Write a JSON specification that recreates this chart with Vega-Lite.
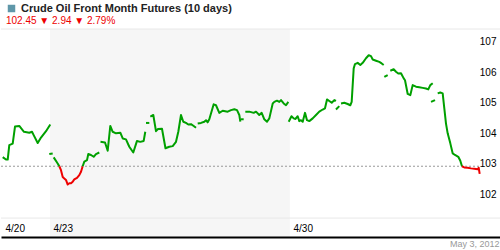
{
  "$schema": "https://vega.github.io/schema/vega-lite/v6.json",
  "width": 500,
  "height": 208,
  "padding": {"left": 0, "right": 0, "top": 3, "bottom": 0},
  "background": "white",
  "config": {"view": {"stroke": null}, "font": "Liberation Sans"},
  "title": {
    "text": "102.45 \u25bc 2.94  \u25bc 2.79%",
    "anchor": "start",
    "frame": "group",
    "dx": 5,
    "font": "Liberation Sans",
    "fontSize": 10,
    "fontWeight": "normal",
    "color": "#ee0000",
    "offset": -23
  },
  "data": {"values": [
    {"t":0.015,"v":103.00,"s":1,"c":"up"},{"t":0.083,"v":102.92,"s":1,"c":"up"},{"t":0.119,"v":102.92,"s":1,"c":"up"},{"t":0.152,"v":103.39,"s":1,"c":"up"},{"t":0.223,"v":103.44,"s":1,"c":"up"},{"t":0.271,"v":104.00,"s":1,"c":"up"},{"t":0.360,"v":104.02,"s":1,"c":"up"},{"t":0.458,"v":103.83,"s":1,"c":"up"},{"t":0.569,"v":103.80,"s":1,"c":"up"},{"t":0.625,"v":103.83,"s":1,"c":"up"},{"t":0.660,"v":103.72,"s":1,"c":"up"},{"t":0.744,"v":103.46,"s":1,"c":"up"},{"t":0.8125,"v":103.64,"s":1,"c":"up"},{"t":0.917,"v":103.85,"s":1,"c":"up"},{"t":1.006,"v":104.07,"s":1,"c":"up"},
    {"t":0.985,"v":103.10,"s":2,"c":"up"},{"t":1.056,"v":103.12,"s":2,"c":"up"},
    {"t":1.077,"v":102.99,"s":3,"c":"up"},{"t":1.160,"v":102.79,"s":3,"c":"up"},{"t":1.194,"v":102.70,"s":3,"c":"up"},
    {"t":1.194,"v":102.70,"s":4,"c":"down"},{"t":1.229,"v":102.57,"s":4,"c":"down"},{"t":1.265,"v":102.35,"s":4,"c":"down"},{"t":1.298,"v":102.30,"s":4,"c":"down"},{"t":1.333,"v":102.25,"s":4,"c":"down"},{"t":1.369,"v":102.10,"s":4,"c":"down"},{"t":1.402,"v":102.14,"s":4,"c":"down"},{"t":1.4375,"v":102.14,"s":4,"c":"down"},{"t":1.473,"v":102.19,"s":4,"c":"down"},{"t":1.506,"v":102.27,"s":4,"c":"down"},{"t":1.5625,"v":102.32,"s":4,"c":"down"},{"t":1.610,"v":102.41,"s":4,"c":"down"},{"t":1.646,"v":102.52,"s":4,"c":"down"},{"t":1.681,"v":102.70,"s":4,"c":"down"},
    {"t":1.681,"v":102.70,"s":5,"c":"up"},{"t":1.715,"v":102.85,"s":5,"c":"up"},{"t":1.771,"v":102.90,"s":5,"c":"up"},{"t":1.798,"v":103.10,"s":5,"c":"up"},{"t":1.854,"v":103.07,"s":5,"c":"up"},{"t":1.910,"v":103.01,"s":5,"c":"up"},{"t":1.958,"v":103.10,"s":5,"c":"up"},{"t":2.027,"v":103.15,"s":5,"c":"up"},
    {"t":2.052,"v":103.50,"s":6,"c":"up"},{"t":2.146,"v":103.48,"s":6,"c":"up"},{"t":2.202,"v":103.21,"s":6,"c":"up"},{"t":2.256,"v":104.02,"s":6,"c":"up"},{"t":2.306,"v":103.83,"s":6,"c":"up"},{"t":2.375,"v":103.78,"s":6,"c":"up"},{"t":2.465,"v":103.80,"s":6,"c":"up"},{"t":2.515,"v":103.61,"s":6,"c":"up"},{"t":2.583,"v":103.58,"s":6,"c":"up"},{"t":2.652,"v":103.34,"s":6,"c":"up"},{"t":2.735,"v":103.15,"s":6,"c":"up"},{"t":2.8125,"v":103.53,"s":6,"c":"up"},{"t":2.881,"v":103.50,"s":6,"c":"up"},{"t":2.952,"v":103.53,"s":6,"c":"up"},{"t":2.985,"v":103.83,"s":6,"c":"up"},
    {"t":3.000,"v":104.12,"s":7,"c":"up"},{"t":3.069,"v":104.12,"s":7,"c":"up"},
    {"t":3.090,"v":104.33,"s":8,"c":"up"},{"t":3.152,"v":104.38,"s":8,"c":"up"},{"t":3.208,"v":103.85,"s":8,"c":"up"},{"t":3.250,"v":103.92,"s":8,"c":"up"},{"t":3.333,"v":103.93,"s":8,"c":"up"},{"t":3.406,"v":103.29,"s":8,"c":"up"},{"t":3.485,"v":103.34,"s":8,"c":"up"},{"t":3.556,"v":103.36,"s":8,"c":"up"},{"t":3.625,"v":103.50,"s":8,"c":"up"},{"t":3.673,"v":103.83,"s":8,"c":"up"},{"t":3.729,"v":104.38,"s":8,"c":"up"},{"t":3.777,"v":104.16,"s":8,"c":"up"},{"t":3.833,"v":104.12,"s":8,"c":"up"},{"t":3.881,"v":104.07,"s":8,"c":"up"},{"t":3.9375,"v":104.08,"s":8,"c":"up"},{"t":3.994,"v":104.02,"s":8,"c":"up"},{"t":4.042,"v":103.96,"s":8,"c":"up"},
    {"t":4.077,"v":104.10,"s":9,"c":"up"},{"t":4.146,"v":104.12,"s":9,"c":"up"},{"t":4.215,"v":104.16,"s":9,"c":"up"},{"t":4.250,"v":104.21,"s":9,"c":"up"},{"t":4.285,"v":104.14,"s":9,"c":"up"},{"t":4.319,"v":104.24,"s":9,"c":"up"},{"t":4.410,"v":104.73,"s":9,"c":"up"},{"t":4.458,"v":104.70,"s":9,"c":"up"},{"t":4.527,"v":104.45,"s":9,"c":"up"},{"t":4.598,"v":104.52,"s":9,"c":"up"},{"t":4.702,"v":104.49,"s":9,"c":"up"},{"t":4.771,"v":104.54,"s":9,"c":"up"},{"t":4.840,"v":104.57,"s":9,"c":"up"},{"t":4.896,"v":104.54,"s":9,"c":"up"},{"t":4.944,"v":104.38,"s":9,"c":"up"},{"t":4.965,"v":104.16,"s":9,"c":"up"},
    {"t":4.979,"v":104.24,"s":10,"c":"up"},{"t":5.035,"v":104.24,"s":10,"c":"up"},
    {"t":5.069,"v":104.49,"s":11,"c":"up"},{"t":5.152,"v":104.49,"s":11,"c":"up"},{"t":5.244,"v":104.45,"s":11,"c":"up"},{"t":5.292,"v":104.49,"s":11,"c":"up"},{"t":5.360,"v":104.38,"s":11,"c":"up"},{"t":5.410,"v":104.45,"s":11,"c":"up"},{"t":5.465,"v":104.24,"s":11,"c":"up"},{"t":5.521,"v":104.16,"s":11,"c":"up"},{"t":5.569,"v":104.27,"s":11,"c":"up"},{"t":5.640,"v":104.76,"s":11,"c":"up"},{"t":5.673,"v":104.81,"s":11,"c":"up"},{"t":5.729,"v":104.85,"s":11,"c":"up"},{"t":5.777,"v":104.81,"s":11,"c":"up"},{"t":5.8125,"v":104.87,"s":11,"c":"up"},{"t":5.869,"v":104.76,"s":11,"c":"up"},{"t":5.917,"v":104.70,"s":11,"c":"up"},{"t":5.965,"v":104.81,"s":11,"c":"up"},
    {"t":5.973,"v":104.16,"s":12,"c":"up"},{"t":6.031,"v":104.34,"s":12,"c":"up"},{"t":6.077,"v":104.27,"s":12,"c":"up"},{"t":6.115,"v":104.25,"s":12,"c":"up"},{"t":6.160,"v":104.34,"s":12,"c":"up"},{"t":6.194,"v":104.18,"s":12,"c":"up"},{"t":6.229,"v":104.21,"s":12,"c":"up"},{"t":6.265,"v":104.16,"s":12,"c":"up"},{"t":6.313,"v":104.45,"s":12,"c":"up"},{"t":6.354,"v":104.21,"s":12,"c":"up"},{"t":6.402,"v":104.18,"s":12,"c":"up"},{"t":6.473,"v":104.27,"s":12,"c":"up"},{"t":6.542,"v":104.38,"s":12,"c":"up"},{"t":6.610,"v":104.49,"s":12,"c":"up"},{"t":6.681,"v":104.56,"s":12,"c":"up"},{"t":6.729,"v":104.60,"s":12,"c":"up"},{"t":6.771,"v":104.89,"s":12,"c":"up"},{"t":6.819,"v":104.84,"s":12,"c":"up"},{"t":6.869,"v":104.78,"s":12,"c":"up"},{"t":6.923,"v":104.87,"s":12,"c":"up"},{"t":6.958,"v":104.84,"s":12,"c":"up"},
    {"t":6.958,"v":104.56,"s":13,"c":"up"},{"t":7.027,"v":104.67,"s":13,"c":"up"},
    {"t":7.063,"v":104.76,"s":14,"c":"up"},{"t":7.131,"v":104.78,"s":14,"c":"up"},{"t":7.202,"v":104.74,"s":14,"c":"up"},{"t":7.256,"v":104.70,"s":14,"c":"up"},{"t":7.285,"v":104.81,"s":14,"c":"up"},{"t":7.327,"v":105.91,"s":14,"c":"up"},{"t":7.354,"v":106.05,"s":14,"c":"up"},{"t":7.410,"v":106.09,"s":14,"c":"up"},{"t":7.465,"v":106.02,"s":14,"c":"up"},{"t":7.515,"v":106.09,"s":14,"c":"up"},{"t":7.583,"v":106.24,"s":14,"c":"up"},{"t":7.640,"v":106.34,"s":14,"c":"up"},{"t":7.6875,"v":106.31,"s":14,"c":"up"},{"t":7.723,"v":106.20,"s":14,"c":"up"},{"t":7.792,"v":106.16,"s":14,"c":"up"},{"t":7.860,"v":106.12,"s":14,"c":"up"},{"t":7.910,"v":106.07,"s":14,"c":"up"},{"t":7.952,"v":106.02,"s":14,"c":"up"},
    {"t":7.965,"v":105.63,"s":15,"c":"up"},{"t":8.035,"v":105.69,"s":15,"c":"up"},
    {"t":8.090,"v":105.83,"s":16,"c":"up"},{"t":8.160,"v":105.88,"s":16,"c":"up"},{"t":8.208,"v":105.80,"s":16,"c":"up"},{"t":8.256,"v":105.74,"s":16,"c":"up"},{"t":8.3125,"v":105.75,"s":16,"c":"up"},{"t":8.369,"v":105.58,"s":16,"c":"up"},{"t":8.396,"v":105.52,"s":16,"c":"up"},{"t":8.452,"v":105.07,"s":16,"c":"up"},{"t":8.506,"v":105.03,"s":16,"c":"up"},{"t":8.556,"v":105.36,"s":16,"c":"up"},{"t":8.625,"v":105.31,"s":16,"c":"up"},{"t":8.694,"v":105.29,"s":16,"c":"up"},{"t":8.765,"v":105.27,"s":16,"c":"up"},{"t":8.833,"v":105.25,"s":16,"c":"up"},{"t":8.881,"v":105.22,"s":16,"c":"up"},{"t":8.923,"v":105.36,"s":16,"c":"up"},{"t":8.973,"v":105.42,"s":16,"c":"up"},
    {"t":8.938,"v":104.81,"s":17,"c":"up"},{"t":9.021,"v":104.87,"s":17,"c":"up"},
    {"t":9.077,"v":105.09,"s":18,"c":"up"},{"t":9.131,"v":105.12,"s":18,"c":"up"},{"t":9.181,"v":105.09,"s":18,"c":"up"},{"t":9.215,"v":104.60,"s":18,"c":"up"},{"t":9.250,"v":104.10,"s":18,"c":"up"},{"t":9.285,"v":103.78,"s":18,"c":"up"},{"t":9.340,"v":103.45,"s":18,"c":"up"},{"t":9.390,"v":103.12,"s":18,"c":"up"},{"t":9.4375,"v":103.07,"s":18,"c":"up"},{"t":9.506,"v":103.01,"s":18,"c":"up"},{"t":9.548,"v":102.88,"s":18,"c":"up"},{"t":9.583,"v":102.70,"s":18,"c":"up"},
    {"t":9.583,"v":102.70,"s":19,"c":"down"},{"t":9.631,"v":102.66,"s":19,"c":"down"},{"t":9.702,"v":102.65,"s":19,"c":"down"},{"t":9.771,"v":102.63,"s":19,"c":"down"},{"t":9.840,"v":102.62,"s":19,"c":"down"},{"t":9.910,"v":102.60,"s":19,"c":"down"},{"t":9.931,"v":102.65,"s":19,"c":"down"},{"t":9.952,"v":102.45,"s":19,"c":"down"}
  ]},
  "layer": [
    {
      "data": {"values": [{"start": 1, "end": 6}]},
      "mark": {"type": "rect", "fill": "#000000", "opacity": 0.035},
      "encoding": {
        "x": {"field": "start", "type": "quantitative"},
        "x2": {"field": "end"},
        "y": {"datum": 107.2},
        "y2": {"datum": 100.38}
      }
    },
    {
      "data": {"values": [{"g": 107.2}, {"g": 101}]},
      "mark": {"type": "rule", "color": "#e8e8e8", "strokeWidth": 1},
      "encoding": {
        "y": {"field": "g", "type": "quantitative"}
      }
    },
    {
      "data": {"values": [{"ref": 102.7, "from": -0.0208, "to": 9.96}]},
      "mark": {"type": "rule", "color": "#999999", "strokeWidth": 1, "strokeDash": [2, 2]},
      "encoding": {
        "x": {"field": "from", "type": "quantitative"},
        "x2": {"field": "to"},
        "y": {"field": "ref", "type": "quantitative"}
      }
    },
    {
      "mark": {"type": "line", "strokeWidth": 2, "strokeJoin": "round", "strokeCap": "butt"},
      "encoding": {
        "x": {
          "field": "t", "type": "quantitative",
          "scale": {"domain": [-0.0208, 10.3959], "nice": false, "zero": false},
          "axis": {
            "values": [0, 1, 6],
            "labelExpr": "datum.value == 0 ? '4/20' : datum.value == 1 ? '4/23' : '4/30'",
            "grid": false, "ticks": false, "tickSize": 0,
            "domainColor": "#000000", "domainWidth": 2,
            "labelAlign": "left", "labelBaseline": "alphabetic",
            "labelPadding": -6, "labelOffset": 3, "labelFlush": false, "labelOverlap": false,
            "labelFont": "Liberation Sans", "labelFontSize": 10, "labelColor": "#000000",
            "title": "May 3, 2012", "titleFont": "Liberation Sans", "titleFontSize": 9,
            "titleFontWeight": "normal", "titleColor": "#999999",
            "titleAnchor": "end", "titleAlign": "right", "titleBaseline": "top",
            "titlePadding": 2.5, "titleX": 498
          }
        },
        "y": {
          "field": "v", "type": "quantitative",
          "scale": {"domain": [100.38, 107.2], "nice": false, "zero": false},
          "axis": {
            "orient": "right",
            "values": [102, 103, 104, 105, 106, 107],
            "format": "d",
            "domain": false, "ticks": false, "tickSize": 0,
            "labelAlign": "right", "labelBaseline": "top",
            "labelPadding": -5, "labelOffset": 1.5, "labelFlush": false, "labelOverlap": false,
            "labelFont": "Liberation Sans", "labelFontSize": 10, "labelColor": "#000000",
            "gridColor": "#e8e8e8", "gridWidth": 1,
            "title": null
          }
        },
        "color": {
          "field": "c", "type": "nominal",
          "scale": {"domain": ["up", "down"], "range": ["#00a000", "#ee0000"]},
          "legend": null
        },
        "detail": {"field": "s", "type": "nominal"}
      }
    },
    {
      "transform": [{"filter": "false"}],
      "mark": {"type": "point", "shape": "square", "filled": true},
      "encoding": {
        "fill": {
          "datum": "Crude Oil Front Month Futures (10 days)",
          "scale": {"range": ["#1b6b84"]},
          "legend": {
            "orient": "none", "legendX": 5, "legendY": -26,
            "title": null,
            "labelFont": "Liberation Sans", "labelFontSize": 11, "labelFontWeight": "bold",
            "labelColor": "#222222", "labelLimit": 400, "labelOffset": 4,
            "symbolType": "square", "symbolSize": 56, "symbolStrokeWidth": 0,
            "symbolFillColor": "#1b6b84", "padding": 0
          }
        }
      }
    }
  ]
}
